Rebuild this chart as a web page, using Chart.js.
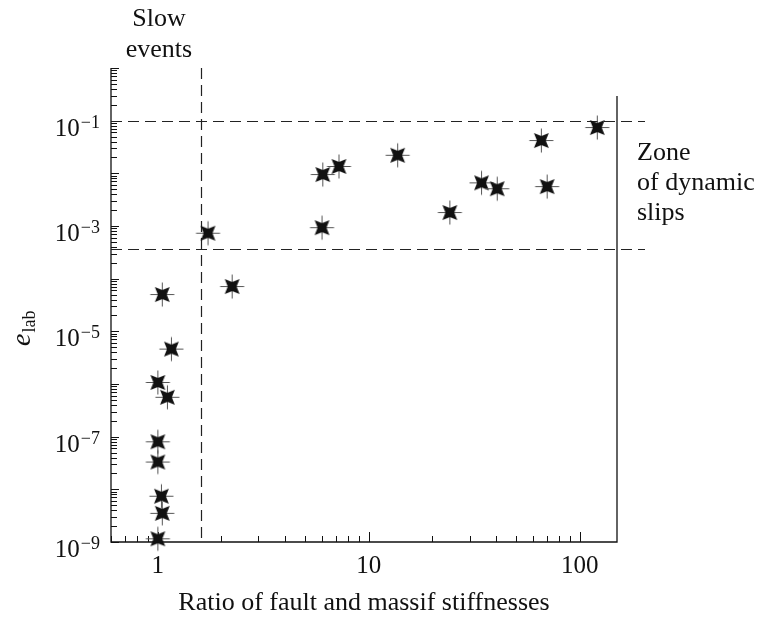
<!DOCTYPE html>
<html>
<head>
<meta charset="utf-8">
<script src="https://cdn.jsdelivr.net/npm/chart.js@4/dist/chart.umd.min.js"></script>
<style>
  html, body { margin: 0; padding: 0; background: #fff; }
  #wrap { width: 759px; height: 626px; }
</style>
</head>
<body>
<div id="wrap"><canvas id="chart" width="759" height="626"></canvas></div>
<script>
// Measured points: stiffness ratio (x) and e_lab (y)
const stiffnessRatio = [1.05, 1.16, 1.0, 1.11, 1.0, 1.0, 1.04, 1.05, 1.0,
                        1.73, 2.25, 6.0, 6.05, 7.22, 13.7, 24.2, 34.2, 40.6, 65.7, 70, 121];
const eLab = [5e-5, 4.6e-6, 1.07e-6, 5.6e-7, 8e-8, 3.3e-8, 7.4e-9, 3.5e-9, 1.15e-9,
              7.3e-4, 7.1e-5, 9.3e-4, 9.5e-3, 0.0135, 0.022, 1.8e-3, 6.6e-3, 5.1e-3, 0.042, 5.6e-3, 0.074];

// Boundaries: slow events limit (x) and zone of dynamic slips (y)
const slowEventsLimit = [1.6];
const dynamicZone = [3.7e-4, 0.1];

// Axes
const xRange = [0.6, 150];
const yRange = [1e-9, 1];
const xTickValues = [1, 10, 100];
const xTickLabels = ['1', '10', '100'];
const yTickExponents = [-1, -3, -5, -7, -9];

const serif = "'Liberation Serif', 'Times New Roman', serif";

// star marker: thin cross plus a filled four-point star
function makeMarker() {
    const c = document.createElement('canvas');
    c.width = 27;
    c.height = 27;
    const g = c.getContext('2d');
    const m = 13.5;
    g.strokeStyle = '#555';
    g.lineWidth = 1;
    g.beginPath();
    g.moveTo(m, 1.5); g.lineTo(m, 25.5);
    g.moveTo(1.5, m); g.lineTo(25.5, m);
    g.stroke();
    g.fillStyle = '#111';
    g.beginPath();
    for (let i = 0; i < 8; i++) {
        const a = Math.PI / 4 * (i + 1);
        const r = i % 2 === 0 ? 10.5 : 4.4;
        const px = m + r * Math.cos(a), py = m + r * Math.sin(a);
        if (i === 0) g.moveTo(px, py); else g.lineTo(px, py);
    }
    g.closePath();
    g.fill();
    return c;
}

// log ticks inside a range (1..9 per decade)
function logTicks(min, max) {
    const out = [];
    for (let e = Math.floor(Math.log10(min)); e <= Math.ceil(Math.log10(max)); e++) {
        for (let k = 1; k <= 9; k++) {
            const v = k * Math.pow(10, e);
            if (v >= min * 0.999 && v <= max * 1.001) out.push({ v: v, major: k === 1 });
        }
    }
    return out;
}

const framePlugin = {
    id: 'frame',
    beforeDatasetsDraw(chart) {
        const ctx = chart.ctx;
        const area = chart.chartArea;
        const xs = chart.scales.x, ys = chart.scales.y;
        ctx.save();

        // axes
        ctx.strokeStyle = '#111';
        ctx.lineWidth = 1.3;
        ctx.beginPath();
        ctx.moveTo(area.left, area.top);
        ctx.lineTo(area.left, area.bottom);
        ctx.lineTo(area.right, area.bottom);
        ctx.lineTo(area.right, area.top + 28);
        ctx.stroke();

        // inward ticks
        ctx.lineWidth = 1;
        ctx.beginPath();
        logTicks(xRange[0], xRange[1]).forEach(t => {
            const px = Math.round(xs.getPixelForValue(t.v)) + 0.5;
            ctx.moveTo(px, area.bottom);
            ctx.lineTo(px, area.bottom - (t.major ? 10 : 6));
        });
        logTicks(yRange[0], yRange[1]).forEach(t => {
            const py = Math.round(ys.getPixelForValue(t.v)) + 0.5;
            ctx.moveTo(area.left, py);
            ctx.lineTo(area.left + (t.major ? 8 : 6), py);
        });
        ctx.stroke();

        // dashed boundaries
        ctx.strokeStyle = '#222';
        ctx.lineWidth = 1.2;
        ctx.setLineDash([11, 6]);
        ctx.beginPath();
        slowEventsLimit.forEach(v => {
            const px = Math.round(xs.getPixelForValue(v)) + 0.5;
            ctx.moveTo(px, area.top);
            ctx.lineTo(px, area.bottom);
        });
        dynamicZone.forEach(v => {
            const py = Math.round(ys.getPixelForValue(v)) + 0.5;
            ctx.moveTo(area.left, py);
            ctx.lineTo(area.right + 28, py);
        });
        ctx.stroke();
        ctx.restore();
    },
    afterDraw(chart) {
        const ctx = chart.ctx;
        const area = chart.chartArea;
        const xs = chart.scales.x, ys = chart.scales.y;
        ctx.save();
        ctx.fillStyle = '#111';

        // x tick labels
        ctx.font = '25px ' + serif;
        ctx.textAlign = 'center';
        ctx.textBaseline = 'alphabetic';
        xTickValues.forEach((v, i) => {
            ctx.fillText(xTickLabels[i], xs.getPixelForValue(v), area.bottom + 31);
        });

        // y tick labels 10^n
        yTickExponents.forEach(e => {
            const py = ys.getPixelForValue(Math.pow(10, e));
            const sup = '\u2212' + Math.abs(e);
            ctx.font = '18px ' + serif;
            const w = ctx.measureText(sup).width;
            ctx.textAlign = 'left';
            ctx.fillText(sup, area.left - 11 - w, py + 7);
            ctx.font = '25px ' + serif;
            ctx.textAlign = 'right';
            ctx.fillText('10', area.left - 12 - w, py + 15);
        });

        // axis titles
        ctx.font = '26px ' + serif;
        ctx.textAlign = 'center';
        ctx.fillText('Ratio of fault and massif stiffnesses', (area.left + area.right) / 2, area.bottom + 68);

        ctx.save();
        ctx.translate(30, 346);
        ctx.rotate(-Math.PI / 2);
        ctx.textAlign = 'left';
        ctx.font = 'italic 28px ' + serif;
        ctx.fillText('e', 0, 0);
        const ew = ctx.measureText('e').width;
        ctx.font = '18px ' + serif;
        ctx.fillText('lab', ew + 1, 5);
        ctx.restore();

        // annotations
        ctx.font = '26px ' + serif;
        ctx.textAlign = 'center';
        ctx.fillText('Slow', 159, 26);
        ctx.fillText('events', 159, 57);
        ctx.textAlign = 'left';
        ctx.fillText('Zone', area.right + 20, 160);
        ctx.fillText('of dynamic', area.right + 20, 190);
        ctx.fillText('slips', area.right + 20, 220);
        ctx.restore();
    }
};

const points = stiffnessRatio.map((x, i) => ({ x: x, y: eLab[i] }));

new Chart(document.getElementById('chart').getContext('2d'), {
    type: 'scatter',
    data: {
        datasets: [{
            label: 'e_lab',
            data: points,
            pointStyle: makeMarker(),
            clip: false
        }]
    },
    options: {
        responsive: false,
        animation: false,
        events: [],
        layout: {
            padding: { left: 111, right: 142, top: 68, bottom: 84 }
        },
        plugins: {
            legend: { display: false },
            tooltip: { enabled: false }
        },
        scales: {
            x: { type: 'logarithmic', min: xRange[0], max: xRange[1], display: false },
            y: { type: 'logarithmic', min: yRange[0], max: yRange[1], display: false }
        }
    },
    plugins: [framePlugin]
});
</script>
</body>
</html>
